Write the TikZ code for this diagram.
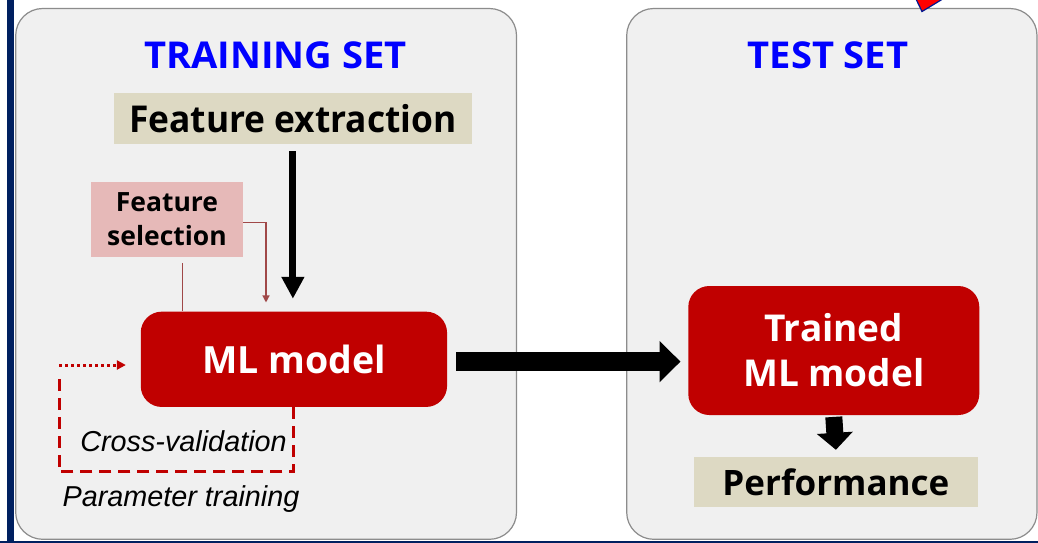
\documentclass[tikz,border=0pt]{standalone}
\usepackage{fontspec}
\setmainfont{Open Sans}
\newfontfamily\narrowf[FakeStretch=0.955]{Open Sans}
\newfontfamily\widef[FakeStretch=1.03]{Open Sans}
\newfontfamily\arialf{Liberation Sans}
\usetikzlibrary{arrows.meta}
\definecolor{panelgray}{HTML}{F0F0F0}
\definecolor{panelline}{HTML}{8C8C8C}
\definecolor{mlred}{HTML}{C00000}
\definecolor{beige}{HTML}{DDD9C3}
\definecolor{pinkbox}{HTML}{E6B9B8}
\definecolor{navy}{HTML}{002060}
\definecolor{brownarrow}{HTML}{A04848}
\definecolor{titleblue}{HTML}{0000FF}
\tikzset{
  panel/.style={fill=panelgray, draw=panelline, line width=1.2pt, rounded corners=27pt},
  titletext/.style={anchor=base, inner sep=0pt, text=titleblue, font=\widef\bfseries\fontsize{37}{40}\selectfont},
  beigebox/.style={fill=beige, inner sep=0pt, font=\bfseries\fontsize{38.5}{44}\selectfont},
  pinkbox/.style={fill=pinkbox, inner sep=0pt, align=center, font=\bfseries\fontsize{26.5}{34.3}\selectfont},
  redbox/.style={fill=mlred, rounded corners=21pt, inner sep=0pt, text=white, align=center},
  italictext/.style={anchor=base, inner sep=0pt, font=\arialf\itshape\fontsize{28.8}{32}\selectfont},
  blackarrow/.style={line width=7pt, -{Triangle[width=21.7pt,length=22pt]}},
  brownline/.style={draw=brownarrow, line width=1.3pt},
  dashedred/.style={draw=mlred, line width=3pt, dash pattern=on 12pt off 7pt},
  dottedred/.style={draw=mlred, line width=3pt, dash pattern=on 3pt off 3pt, -{Triangle[width=9pt,length=9pt]}},
  bigarrow/.style={line width=19pt, -{Triangle[width=40pt,length=21pt]}},
  smallarrow/.style={line width=17pt, -{Triangle[width=35pt,length=17pt]}}
}
\begin{document}
\begin{tikzpicture}[x=1pt,y=-1pt]
\useasboundingbox (0,0) rectangle (1038,542);
\clip (0,0) rectangle (1038,542);
\fill[white] (0,0) rectangle (1038,542);
% panels
\draw[panel] (15.7,8.5) rectangle (516.5,539.3);
\draw[panel] (626.7,8.5) rectangle (1037,539.3);
% frame decorations
\fill[navy] (6.7,-1) rectangle (14,543);
\fill[navy] (0,540.6) rectangle (1038,543);
\filldraw[fill=red, draw=navy!70!blue, line width=1.2pt] (915,-3) -- (922,11.5) -- (946,-3) -- cycle;
% titles
\node[titletext] (trs) at (275.5,68.3) {TRAINING SET};
\node[titletext] (tss) at (828,68.3) {TEST SET};
% boxes
\node[beigebox, minimum width=357.7pt, minimum height=51.3pt, font=\narrowf\bfseries\fontsize{37}{44}\selectfont] (fe) at (292.9,118.3) {Feature extraction};
\node[pinkbox, minimum width=152.3pt, minimum height=74.4pt] (fs) at (167,219.5) {Feature\\selection};
\node[redbox, minimum width=306.3pt, minimum height=95.3pt, font=\bfseries\fontsize{37.5}{44}\selectfont] (ml) at (293.9,359.3) {ML model};
\node[redbox, minimum width=291pt, minimum height=129pt, font=\bfseries\fontsize{37}{45}\selectfont] (tml) at (833.8,350.5) {Trained\\ML model};
\node[beigebox, minimum width=283.7pt, minimum height=50.6pt, font=\bfseries\fontsize{35}{40}\selectfont] (perf) at (835.9,482) {Performance};
% labels
\node[italictext] (cv) at (183.5,451.7) {Cross-validation};
\node[italictext] (pt) at (181,506) {Parameter training};
% connectors
\draw[blackarrow] ([yshift=-7pt]fe.south) -- ([yshift=12.7pt]fe.south |- ml.north);
\draw[brownline, -{Triangle[width=7pt,length=7pt]}] ([yshift=-3.2pt]fs.east) -| ([xshift=-27.9pt,yshift=9pt]ml.north);
\coordinate (b1) at ([xshift=15.3pt,yshift=-6.3pt]fs.south);
\draw[brownline] (b1) -- (b1 |- ml.north);
\coordinate (loopc) at (59.3,365);
\coordinate (cvb) at (59.3,471.7);
\draw[dashedred] (ml.south) -- (ml.south |- cvb) -- (cvb) -- ([yshift=-8pt]loopc);
\draw[dottedred] (loopc) -- ([xshift=-14.7pt]loopc -| ml.west);
\coordinate (ba) at ([xshift=9pt,yshift=-2.3pt]ml.east);
\draw[bigarrow, shorten >=7.6pt] (ba) -- (ba -| tml.west);
\draw[smallarrow] ([yshift=-1.7pt]tml.south) -- ([yshift=6.7pt]perf.north);
\end{tikzpicture}
\end{document}
